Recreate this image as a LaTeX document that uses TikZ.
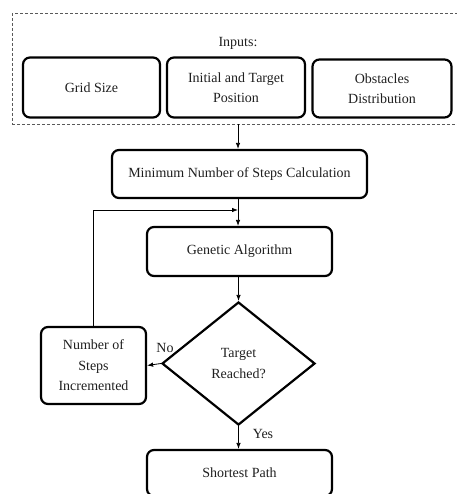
\documentclass[tikz,border=0pt]{standalone}
\usepackage{fontspec}
\setmainfont{Liberation Serif}
\usetikzlibrary{shapes.geometric,arrows.meta,calc}
\begin{document}
\begin{tikzpicture}[x=1pt,y=-1pt,
  every node/.style={font=\fontsize{14}{20.5}\selectfont, text=black!88},
  procbox/.style={draw, line width=2.2pt, rounded corners=7pt, align=center, inner sep=0pt},
  decision/.style={draw, diamond, line width=2.2pt, align=center, inner sep=0pt},
  flow/.style={line width=0.8pt, -{Latex[length=6pt,width=4.5pt]}},
  plainline/.style={line width=0.8pt}]
  \useasboundingbox (0,0) rectangle (456,494);

  % input group
  \node[draw=black!65, dashed, line width=0.8pt, dash pattern=on 3pt off 2pt,
        minimum width=460pt, minimum height=110.5pt, inner sep=0pt] (inputs) at (242,68.75) {};
  \node (inlabel) at (238,43) {Inputs:};
  \node[procbox, minimum width=137pt, minimum height=60pt] (grid) at (91.5,87.5) {Grid Size};
  \node[procbox, minimum width=138pt, minimum height=60pt] (init) at (236,87.5) {Initial and Target\\Position};
  \node[procbox, minimum width=139pt, minimum height=58pt] (obst) at (382,88.5) {Obstacles\\Distribution};

  % main flow
  \node[procbox, minimum width=255pt, minimum height=48pt] (minstep) at (239.5,174) {Minimum Number of Steps Calculation};
  \node[procbox, minimum width=185pt, minimum height=49pt] (ga) at (239.5,251.5) {Genetic Algorithm};
  \node[decision, minimum width=153pt, minimum height=123pt] (target) at (238.5,363.5) {Target\\Reached?};
  \node[procbox, minimum width=105pt, minimum height=77pt] (incr) at (93.5,365.5) {Number of\\Steps\\Incremented};
  \node[procbox, minimum width=185pt, minimum height=46pt] (path) at (239.5,473) {Shortest Path};

  \coordinate (merge) at (238,210);

  \draw[flow] (inputs.south -| merge) -- (minstep.north -| merge);
  \draw[flow] (minstep.south -| merge) -- (ga.north -| merge);
  \draw[flow] (ga.south -| target.north) -- (target.north);
  \draw[flow] (target.west) -- (incr.east);
  \draw[flow] (target.south) -- (path.north -| target.south);
  \draw[flow] (incr.north) |- (merge);

  % branch labels
  \node (nolabel) at (165,348) {No};
  \node (yeslabel) at (263,434) {Yes};
\end{tikzpicture}
\end{document}
